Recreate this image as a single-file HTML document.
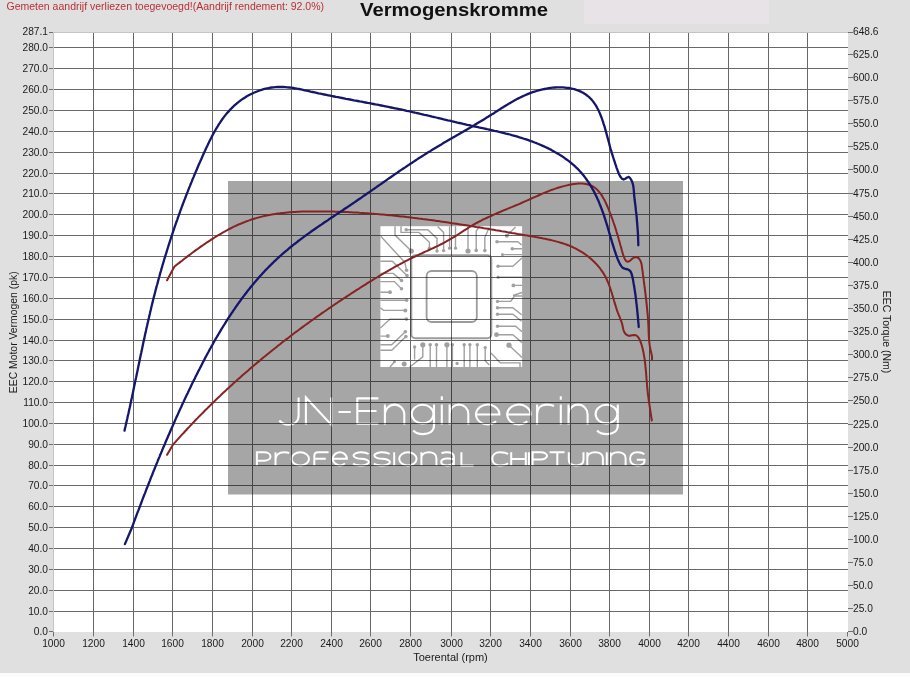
<!DOCTYPE html><html><head><meta charset="utf-8"><title>Vermogenskromme</title><style>html,body{margin:0;padding:0;width:910px;height:677px;overflow:hidden;background:#e0e0e0}svg{display:block}</style></head><body>
<svg width="910" height="677" viewBox="0 0 910 677" font-family="Liberation Sans, sans-serif">
<rect x="0" y="0" width="910" height="677" fill="#e0e0e0"/>
<rect x="0" y="673" width="910" height="4" fill="#fcfcfc"/>
<rect x="584" y="0" width="185" height="24" fill="#e7e3e6"/>
<text x="6.5" y="10" font-size="10.5" fill="#bb2f38">Gemeten aandrijf verliezen toegevoegd!(Aandrijf rendement: 92.0%)</text>
<text x="360" y="16.3" font-size="19" font-weight="bold" fill="#111" textLength="188" lengthAdjust="spacingAndGlyphs">Vermogenskromme</text>
<rect x="53" y="32" width="795" height="600" fill="#fff"/>
<path d="M53.5,632V32.5H848" stroke="#c4c4c4" stroke-width="1" fill="none"/>
<path d="M93.5,33V632M133.5,33V632M172.5,33V632M212.5,33V632M252.5,33V632M291.5,33V632M331.5,33V632M370.5,33V632M410.5,33V632M451.5,33V632M490.5,33V632M530.5,33V632M570.5,33V632M609.5,33V632M649.5,33V632M688.5,33V632M728.5,33V632M768.5,33V632M807.5,33V632M54,611.5H848M54,590.5H848M54,569.5H848M54,548.5H848M54,527.5H848M54,506.5H848M54,485.5H848M54,465.5H848M54,444.5H848M54,423.5H848M54,402.5H848M54,381.5H848M54,360.5H848M54,340.5H848M54,319.5H848M54,298.5H848M54,277.5H848M54,256.5H848M54,235.5H848M54,214.5H848M54,193.5H848M54,173.5H848M54,152.5H848M54,131.5H848M54,110.5H848M54,89.5H848M54,68.5H848M54,47.5H848" stroke="#686868" stroke-width="1" fill="none"/>
<g style="mix-blend-mode:multiply">
<rect x="228" y="181" width="455" height="313.5" fill="#a6a6a6"/>
<rect x="380.4" y="226.2" width="141.7" height="140.8" fill="#fff"/><path d="M395,226.2V235.1L411.3,251M401,226.2V232.4H419L429.4,242.2V248.2M406.2,229.7H427.7L437,238.4V251M437.6,226.4L443.6,232.4V250.6M449.6,226.2V248.2M380.7,236.2L404.8,262.4L406.6,270.3M380.4,261.3H392.2L407,275.6M380.4,273.4H393.3L401.5,280.5M380.4,281.6H394.4L401.5,288.7M380.4,292.2H390M455.5,226.2V248.2M468,226.2V251M479.5,226.2L476.2,231.3V250.4M489.3,227.5L484.8,237.3V250.6M506.8,235.7L515.6,226.9M497,241.7H517.8L521.6,245M512.3,248.8H522M502.5,254.6H522M498.1,266.3H512.8L522,258M498.1,277.2H522M513.4,285.4H522M513,295.5L522,292.5M380.4,300.3H406.6M380.4,307.7L383.5,310.4H405.3M380.4,327.9L390,319.1H406.4M380.4,336.1H387.8M380.4,344.8H391.7L405.3,331.7M380.4,350.3H391.7L405.9,336.6M390,367L394.4,361.8M409.7,367L422.8,356.8V344.8M414.6,359.6V347M430.2,367V344.8M436.5,367V344.8M446.9,367V344.8M497.5,301.4H510.7L514.5,296H522M497.5,307.7H512.8L521.6,314.8M497.5,314.2H512.8L521.6,321.3M497.5,326.2H515.6L522,331.7M496.5,334.7H512.8L522,342.6M509,345.2L522,357.4M491,353L500.3,362.9H520V367M452.4,344.8V367M464.2,344.8V367M469.9,344.8V367M477.3,344.8V367M485.2,347.6V360.7L489.3,365" fill="none" stroke="#a0a0a0" stroke-width="1.4"/><g fill="#a0a0a0"><circle cx="411.3" cy="251" r="2.6"/><circle cx="429.4" cy="248.2" r="1.7"/><circle cx="406.2" cy="229.7" r="1.8"/><circle cx="437" cy="251" r="1.7"/><circle cx="443.6" cy="250.6" r="1.7"/><circle cx="449.6" cy="248.2" r="1.6"/><circle cx="406.6" cy="270.3" r="1.8"/><circle cx="407" cy="275.6" r="1.8"/><circle cx="401.5" cy="280.5" r="1.8"/><circle cx="401.5" cy="288.7" r="1.8"/><circle cx="390" cy="292.2" r="1.9"/><circle cx="455.5" cy="248.2" r="1.6"/><circle cx="468" cy="251" r="2.6"/><circle cx="476.2" cy="250.4" r="1.8"/><circle cx="484.8" cy="250.6" r="1.8"/><circle cx="506.8" cy="235.7" r="2"/><circle cx="497" cy="241.7" r="1.8"/><circle cx="512.3" cy="248.8" r="1.8"/><circle cx="502.5" cy="254.6" r="1.6"/><circle cx="498.1" cy="266.3" r="1.8"/><circle cx="498.1" cy="277.2" r="1.6"/><circle cx="513.4" cy="285.4" r="1.9"/><circle cx="406.6" cy="300.3" r="1.8"/><circle cx="405.3" cy="310.4" r="2"/><circle cx="406.4" cy="319.1" r="1.8"/><circle cx="387.8" cy="336.1" r="2"/><circle cx="405.3" cy="331.7" r="1.8"/><circle cx="405.9" cy="336.6" r="1.8"/><circle cx="394.4" cy="361.8" r="1.5"/><circle cx="404.2" cy="364" r="2.5"/><circle cx="422.8" cy="344.8" r="2.6"/><circle cx="414.6" cy="347" r="1.7"/><circle cx="430.2" cy="344.8" r="1.8"/><circle cx="436.5" cy="344.8" r="1.8"/><circle cx="446.9" cy="344.8" r="2.6"/><circle cx="497.5" cy="301.4" r="1.7"/><circle cx="497.5" cy="307.7" r="1.7"/><circle cx="497.5" cy="314.2" r="1.7"/><circle cx="497.5" cy="326.2" r="1.7"/><circle cx="496.5" cy="334.7" r="2.4"/><circle cx="509" cy="345.2" r="2.6"/><circle cx="452.4" cy="344.8" r="1.7"/><circle cx="464.2" cy="344.8" r="1.7"/><circle cx="469.9" cy="344.8" r="1.7"/><circle cx="477.3" cy="344.8" r="1.7"/><circle cx="485.2" cy="347.6" r="1.7"/><circle cx="457.1" cy="363.4" r="1.6"/></g><rect x="411.3" y="255.3" width="80" height="83" rx="4" fill="none" stroke="#9c9c9c" stroke-width="2"/><rect x="426.6" y="271" width="50.2" height="51" rx="5" fill="none" stroke="#9c9c9c" stroke-width="1.8"/>
<path d="M298.6,397.5V415.5C298.6,421.5 294.5,424.6 288.6,424.6C284.5,424.6 281.3,423 279.3,420.5 M305.9,424.6V397.5L331.2,424.6V397.5 M338.5,412H350.8 M357.3,397.5V424.6 M357.3,398.4H378.4 M357.3,411H376.5 M357.3,423.7H378.4 M384.9,424.6V404.6 M384.9,414.3 A9.7,9.7 0 0 1 404.3,414.3 V424.6 M411.7,414.1 A10.9,9.3 0 1 0 433.5,414.1 A10.9,9.3 0 1 0 411.7,414.1 M434,404.6V425.6 C434,431.1 429.5,434.1 423,434.1 C418.5,434.1 415,432.5 413.3,430.5 M441.8,404.6V424.6 M441.8,396.3V399.9 M449.6,424.6V404.6 M449.6,413.95 A9.35,9.35 0 0 1 468.3,413.95 V424.6 M476,414.5H499.4 A11.7,9.9 0 1 0 496.124,421.331 M507.2,414.5H530.6 A11.7,9.9 0 1 0 527.324,421.331 M537.1,404.6V424.6 M537.1,414C537.1,408 541,404.6 547,404.6C550,404.6 552.5,405.2 554,406 M560.8,404.6V424.6 M560.8,396.2V399.8 M568.5,424.6V404.6 M568.5,414.15 A9.55,9.55 0 0 1 587.6,414.15 V424.6 M595.6,414.1 A10.9,9.3 0 1 0 617.4,414.1 A10.9,9.3 0 1 0 595.6,414.1 M617.8,404.6V425.6 C617.8,431.1 613.3,434.1 606.8,434.1 C602.3,434.1 598.8,432.5 597.1,430.5" fill="none" stroke="#fff" stroke-width="2.1"/>
<path d="M256.9,465.4V452.3H264C267.8,452.3 270.5,454.2 270.5,456.5C270.5,458.8 267.8,460.7 264,460.7H256.9 M275.5,465.4V452.3 M275.5,460C275.5,455 279,452.3 284,452.3C286,452.3 288,452.6 289.2,453.2 M291.6,458.85 A8.7,6.55 0 1 0 309,458.85 A8.7,6.55 0 1 0 291.6,458.85 M314.3,465.4V456C314.3,453.8 315.8,452.3 318,452.3H328.6 M314.3,458.8H325.8 M332.8,458.85H346.9 A7.05,6.55 0 1 0 344.926,463.37 M368.6,454C366.9,452.8 364.2,452.3 361.2,452.3C357.5,452.3 353.5,453.8 353.5,455.6C353.5,457.4 357.5,458.8 361.2,458.8C364.9,458.8 368.9,460.2 368.9,462.1C368.9,464 364.9,465.4 361.2,465.4C357,465.4 354.5,464.8 353.2,463.6 M389.7,454C388,452.8 385.15,452.3 382.15,452.3C378.3,452.3 374.3,453.8 374.3,455.6C374.3,457.4 378.3,458.8 382.15,458.8C386,458.8 390,460.2 390,462.1C390,464 386,465.4 382.15,465.4C377.8,465.4 375.3,464.8 374,463.6 M394.2,452.3V465.4 M399.2,458.85 A8.7,6.55 0 1 0 416.6,458.85 A8.7,6.55 0 1 0 399.2,458.85 M421.4,465.4V452.3 M421.4,458C421.4,454.5 424.5,452.3 428.9,452.3C433.3,452.3 436.4,454.5 436.4,458V465.4 M441.5,453.2C443,452.6 445,452.3 447,452.3C451,452.3 453.9,454 453.9,457V465.4 M453.9,459.5C452.5,458.8 450,458.5 447.3,458.5C443.5,458.5 441.2,460 441.2,462C441.2,464 443.5,465.4 447.3,465.4C450,465.4 452.5,464.5 453.9,463 M461.4,452.3V465.4H473.6 M508,454.3C506.5,452.9 503.5,452.3 500,452.3C495,452.3 492.3,455.2 492.3,458.85C492.3,462.5 495,465.4 500,465.4C503.5,465.4 506.5,464.6 508,463.3 M511.2,452.3V465.4 M525.8,452.3V465.4 M511.2,458.9H525.8 M528.9,452.3V465.4 M532.6,465.4V452.3H540.5C544.5,452.3 547.1,454 547.1,455.85C547.1,457.7 544.5,459.4 540.5,459.4H532.6 M549.6,452.3H564.6 M557.3,452.3V465.4 M568.8,452.3V459.5C568.8,463 571.5,465.4 576.15,465.4C580.8,465.4 583.5,463 583.5,459.5V452.3 M587.3,465.4V452.3 M587.3,458C587.3,454.5 590.4,452.3 595.1,452.3C599.8,452.3 602.9,454.5 602.9,458V465.4 M610.4,465.4V452.3 M610.4,458C610.4,454.5 613.5,452.3 618,452.3C622.5,452.3 625.6,454.5 625.6,458V465.4 M606.8,452.3V465.4 M644.3,454.2C642.8,452.9 640.3,452.3 637.5,452.3C632.5,452.3 630.1,455.2 630.1,458.85C630.1,462.5 632.5,465.4 637.5,465.4C642,465.4 644.5,463.8 644.5,461V459.8H636.8" fill="none" stroke="#fff" stroke-width="2"/>
</g>
<g fill="none" stroke-linecap="round" stroke-linejoin="round">
<path d="M167.1,280.3 L174.3,266.7 175.8,265.5 177.3,264.3 178.9,263.1 180.4,261.9 182.0,260.7 183.5,259.5 185.1,258.3 186.6,257.1 188.2,255.9 189.8,254.7 191.4,253.5 193.0,252.3 194.6,251.1 196.2,249.9 197.9,248.8 199.5,247.6 201.1,246.4 202.8,245.3 204.5,244.1 206.1,243.0 207.8,241.9 209.5,240.8 211.2,239.7 212.9,238.6 214.6,237.5 216.3,236.4 218.0,235.4 219.8,234.3 221.5,233.3 223.2,232.3 225.0,231.4 226.8,230.4 228.5,229.4 230.3,228.5 232.1,227.6 233.9,226.7 235.7,225.9 237.5,225.0 239.3,224.2 241.2,223.5 243.0,222.7 244.9,222.0 246.7,221.2 248.6,220.6 250.4,219.9 252.3,219.3 254.2,218.7 256.1,218.1 258.0,217.6 259.9,217.1 261.8,216.6 263.8,216.1 265.7,215.7 267.6,215.3 269.6,214.9 271.5,214.6 273.5,214.2 275.4,213.9 277.4,213.6 279.4,213.4 281.4,213.1 283.3,212.9 285.3,212.7 287.3,212.5 289.3,212.3 291.3,212.2 293.3,212.0 295.3,211.9 297.3,211.8 299.3,211.7 301.3,211.6 303.3,211.5 305.3,211.5 307.3,211.4 309.3,211.4 311.3,211.4 313.4,211.4 315.4,211.4 317.4,211.4 319.4,211.4 321.4,211.4 323.4,211.4 325.4,211.4 327.4,211.5 329.4,211.5 331.4,211.5 333.4,211.6 335.4,211.7 337.4,211.7 339.4,211.8 341.4,211.9 343.4,211.9 345.4,212.0 347.4,212.1 349.4,212.2 351.4,212.3 353.4,212.4 355.4,212.5 357.4,212.6 359.4,212.8 361.4,212.9 363.4,213.0 365.4,213.2 367.3,213.3 369.3,213.4 371.3,213.6 373.3,213.7 375.3,213.9 377.3,214.1 379.3,214.2 381.2,214.4 383.2,214.6 385.2,214.8 387.2,215.0 389.2,215.2 391.1,215.3 393.1,215.5 395.1,215.8 397.1,216.0 399.1,216.2 401.0,216.4 403.0,216.6 405.0,216.8 407.0,217.1 408.9,217.3 410.9,217.5 412.9,217.8 414.9,218.0 416.8,218.2 418.8,218.5 420.8,218.7 422.8,219.0 424.7,219.2 426.7,219.5 428.7,219.8 430.7,220.0 432.6,220.3 434.6,220.6 436.6,220.9 438.5,221.1 440.5,221.4 442.5,221.7 444.5,222.0 446.4,222.3 448.4,222.6 450.4,222.9 452.3,223.2 454.3,223.4 456.3,223.7 458.3,224.1 460.2,224.4 462.2,224.7 464.2,225.0 466.2,225.3 468.1,225.6 470.1,225.9 472.1,226.2 474.0,226.5 476.0,226.9 478.0,227.2 480.0,227.5 481.9,227.8 483.9,228.2 485.9,228.5 487.9,228.8 489.8,229.2 491.8,229.5 493.8,229.8 495.8,230.2 497.7,230.5 499.7,230.8 501.7,231.2 503.7,231.5 505.6,231.8 507.6,232.2 509.6,232.5 511.6,232.9 513.6,233.2 515.5,233.5 517.5,233.9 519.5,234.2 521.5,234.6 523.5,234.9 525.4,235.3 527.4,235.6 529.4,236.0 531.4,236.3 533.4,236.6 535.4,237.0 537.3,237.3 539.3,237.7 541.3,238.1 543.3,238.5 545.2,238.8 547.2,239.3 549.2,239.7 551.1,240.1 553.1,240.6 555.0,241.1 556.9,241.6 558.8,242.1 560.7,242.7 562.6,243.3 564.5,243.9 566.3,244.5 568.2,245.2 570.0,246.0 571.8,246.7 573.6,247.6 575.4,248.4 577.1,249.3 578.9,250.3 580.6,251.3 582.3,252.3 583.9,253.4 585.5,254.5 587.1,255.7 588.7,256.9 590.2,258.2 591.7,259.5 593.2,260.9 594.6,262.3 596.0,263.7 597.3,265.2 598.6,266.7 599.9,268.2 601.0,269.8 602.2,271.4 603.3,273.1 604.3,274.8 605.3,276.5 606.2,278.3 607.0,280.0 607.8,281.9 608.6,283.7 609.3,285.6 610.0,287.5 610.6,289.4 611.2,291.3 611.9,293.2 612.4,295.1 613.0,297.1 613.6,299.0 614.1,301.0 614.7,302.9 615.3,304.9 615.9,306.8 616.5,308.7 617.1,310.6 617.8,312.5 618.5,314.3 619.3,316.2 620.0,318.0 620.7,319.8 621.4,321.7 622.0,323.6 622.5,325.5 622.9,327.5 623.3,329.5 624.0,331.5 625.0,333.3 626.4,334.7 628.2,335.7 630.1,335.8 632.1,335.3 634.1,334.9 635.9,335.2 637.4,336.3 638.7,337.9 639.7,339.7 640.5,341.7 641.2,343.6 641.8,345.5 642.3,347.4 642.8,349.3 643.2,351.2 643.6,353.1 643.9,355.1 644.3,357.0 644.6,359.0 644.8,361.0 645.1,362.9 645.3,364.9 645.5,366.9 645.7,368.9 645.9,370.9 646.1,372.9 646.2,374.9 646.4,376.9 646.5,378.9 646.7,380.9 646.9,382.9 647.0,384.9 647.2,386.9 647.4,388.9 647.6,390.9 647.8,392.9 648.0,394.8 648.3,396.8 648.6,398.8 648.8,400.8 649.1,402.7 649.4,404.7 649.7,406.7 650.0,408.6 650.3,410.6 650.6,412.6 650.9,414.5 651.2,416.5 651.5,418.5 651.8,420.5" stroke="#862323" stroke-width="2"/>
<path d="M167.1,454.8 L172.8,444.9 174.1,443.4 175.5,441.9 176.8,440.4 178.2,438.9 179.5,437.4 180.8,435.9 182.2,434.4 183.6,433.0 184.9,431.5 186.3,430.0 187.6,428.5 189.0,427.1 190.4,425.6 191.8,424.2 193.1,422.7 194.5,421.3 195.9,419.8 197.3,418.4 198.7,416.9 200.1,415.5 201.5,414.1 202.9,412.7 204.3,411.2 205.7,409.8 207.2,408.4 208.6,407.0 210.0,405.6 211.4,404.2 212.9,402.8 214.3,401.4 215.7,400.0 217.2,398.6 218.6,397.2 220.1,395.9 221.5,394.5 223.0,393.1 224.4,391.8 225.9,390.4 227.3,389.0 228.8,387.7 230.3,386.3 231.8,385.0 233.2,383.6 234.7,382.3 236.2,381.0 237.7,379.6 239.2,378.3 240.7,377.0 242.2,375.6 243.7,374.3 245.2,373.0 246.7,371.7 248.2,370.4 249.7,369.1 251.2,367.8 252.7,366.5 254.2,365.2 255.8,363.9 257.3,362.6 258.8,361.4 260.4,360.1 261.9,358.8 263.4,357.5 265.0,356.3 266.5,355.0 268.1,353.7 269.6,352.5 271.2,351.2 272.7,350.0 274.3,348.7 275.9,347.5 277.4,346.2 279.0,345.0 280.6,343.8 282.1,342.5 283.7,341.3 285.3,340.1 286.9,338.9 288.5,337.7 290.0,336.5 291.6,335.2 293.2,334.0 294.8,332.8 296.4,331.6 298.0,330.5 299.6,329.3 301.2,328.1 302.8,326.9 304.4,325.7 306.1,324.5 307.7,323.4 309.3,322.2 310.9,321.0 312.5,319.9 314.2,318.7 315.8,317.5 317.4,316.4 319.1,315.2 320.7,314.1 322.3,312.9 324.0,311.8 325.6,310.7 327.3,309.5 328.9,308.4 330.6,307.3 332.2,306.1 333.9,305.0 335.5,303.9 337.2,302.8 338.8,301.7 340.5,300.6 342.2,299.5 343.8,298.4 345.5,297.3 347.2,296.2 348.9,295.1 350.5,294.0 352.2,292.9 353.9,291.8 355.6,290.7 357.3,289.6 359.0,288.6 360.6,287.5 362.3,286.4 364.0,285.4 365.7,284.3 367.4,283.2 369.1,282.2 370.8,281.1 372.5,280.1 374.2,279.0 376.0,278.0 377.7,277.0 379.4,275.9 381.1,274.9 382.8,273.9 384.5,272.9 386.3,271.8 388.0,270.8 389.7,269.8 391.5,268.8 393.2,267.9 394.9,266.9 396.7,265.9 398.5,265.0 400.2,264.0 402.0,263.1 403.7,262.1 405.5,261.2 407.3,260.3 409.1,259.4 410.9,258.5 412.7,257.6 414.5,256.8 416.3,255.9 418.1,255.1 419.9,254.2 421.7,253.4 423.5,252.5 425.4,251.7 427.2,250.9 429.0,250.0 430.8,249.2 432.6,248.3 434.4,247.5 436.2,246.6 438.0,245.8 439.8,244.9 441.6,244.0 443.3,243.1 445.1,242.1 446.8,241.2 448.6,240.2 450.3,239.2 452.0,238.2 453.7,237.2 455.4,236.1 457.1,235.1 458.8,234.0 460.5,232.9 462.1,231.8 463.8,230.7 465.5,229.6 467.2,228.6 468.9,227.5 470.6,226.5 472.3,225.4 474.0,224.4 475.8,223.4 477.5,222.5 479.3,221.5 481.1,220.6 482.8,219.7 484.6,218.8 486.5,218.0 488.3,217.1 490.1,216.3 491.9,215.5 493.8,214.6 495.6,213.8 497.4,213.0 499.3,212.3 501.1,211.5 503.0,210.7 504.8,209.9 506.7,209.2 508.5,208.4 510.4,207.6 512.2,206.9 514.1,206.1 515.9,205.3 517.7,204.6 519.6,203.8 521.4,203.0 523.2,202.2 525.0,201.4 526.8,200.6 528.6,199.8 530.4,199.0 532.2,198.2 534.0,197.4 535.8,196.6 537.6,195.8 539.4,195.0 541.2,194.2 543.0,193.4 544.8,192.6 546.7,191.9 548.5,191.2 550.4,190.4 552.2,189.7 554.1,189.1 556.1,188.4 558.0,187.8 559.9,187.2 561.9,186.6 563.9,186.1 565.9,185.6 568.0,185.1 570.0,184.7 572.1,184.3 574.2,184.0 576.2,183.8 578.2,183.6 580.2,183.5 582.2,183.6 584.2,183.7 586.0,184.0 587.9,184.4 589.6,185.0 591.3,185.6 593.0,186.5 594.5,187.5 596.0,188.6 597.3,189.9 598.6,191.3 599.9,192.8 601.1,194.4 602.2,196.1 603.2,197.9 604.3,199.7 605.2,201.6 606.1,203.5 607.0,205.5 607.8,207.4 608.7,209.4 609.4,211.4 610.2,213.3 610.9,215.2 611.6,217.1 612.3,219.0 613.0,220.9 613.6,222.8 614.3,224.6 614.9,226.5 615.5,228.4 616.1,230.2 616.6,232.1 617.2,233.9 617.8,235.8 618.3,237.6 618.8,239.5 619.4,241.4 619.9,243.3 620.4,245.2 621.0,247.1 621.5,249.1 622.0,251.0 622.6,253.0 623.2,255.1 624.0,257.2 624.9,259.2 626.0,260.9 627.3,261.7 628.8,261.4 630.5,260.3 632.2,258.8 634.0,257.5 635.8,257.0 637.5,257.4 639.0,258.6 640.1,260.1 640.9,261.9 641.5,263.9 641.8,265.9 642.1,268.0 642.4,270.1 642.7,272.1 642.9,274.2 643.2,276.2 643.5,278.2 643.7,280.2 644.0,282.1 644.2,284.1 644.5,286.1 644.7,288.0 645.0,290.0 645.2,292.0 645.5,293.9 645.7,295.9 645.9,297.8 646.2,299.8 646.4,301.8 646.6,303.8 646.8,305.8 647.0,307.8 647.2,309.8 647.4,311.8 647.6,313.8 647.8,315.8 647.9,317.8 648.1,319.8 648.2,321.8 648.3,323.8 648.4,325.8 648.5,327.8 648.6,329.8 648.6,331.8 648.7,333.8 648.8,335.8 648.9,337.7 649.1,339.7 649.2,341.7 649.5,343.7 649.7,345.7 650.1,347.6 650.5,349.6 650.9,351.6 651.4,353.6 651.8,355.5 652.1,357.5 652.0,359.5" stroke="#862323" stroke-width="2"/>
<path d="M124.5,430.7 124.9,428.8 125.4,426.8 125.8,424.9 126.3,422.9 126.7,421.0 127.2,419.0 127.6,417.1 128.0,415.1 128.5,413.2 128.9,411.2 129.3,409.3 129.8,407.3 130.2,405.4 130.6,403.4 131.0,401.5 131.4,399.5 131.9,397.6 132.3,395.6 132.7,393.7 133.1,391.7 133.5,389.8 133.9,387.8 134.3,385.8 134.7,383.9 135.1,381.9 135.5,380.0 136.0,378.0 136.4,376.1 136.8,374.1 137.2,372.2 137.6,370.2 138.0,368.2 138.4,366.3 138.8,364.3 139.2,362.4 139.6,360.4 140.0,358.5 140.4,356.5 140.8,354.5 141.3,352.6 141.7,350.6 142.1,348.7 142.5,346.7 142.9,344.8 143.3,342.8 143.7,340.9 144.2,338.9 144.6,337.0 145.0,335.0 145.4,333.1 145.9,331.1 146.3,329.1 146.7,327.2 147.2,325.2 147.6,323.3 148.1,321.3 148.5,319.4 149.0,317.5 149.4,315.5 149.9,313.6 150.3,311.6 150.8,309.7 151.2,307.7 151.7,305.8 152.2,303.8 152.7,301.9 153.1,300.0 153.6,298.0 154.1,296.1 154.6,294.2 155.1,292.2 155.6,290.3 156.1,288.4 156.6,286.4 157.2,284.5 157.7,282.6 158.2,280.6 158.7,278.7 159.3,276.8 159.8,274.9 160.3,272.9 160.9,271.0 161.4,269.1 162.0,267.2 162.5,265.2 163.1,263.3 163.7,261.4 164.2,259.5 164.8,257.6 165.4,255.7 166.0,253.8 166.6,251.8 167.2,249.9 167.8,248.0 168.4,246.1 169.0,244.2 169.6,242.3 170.2,240.4 170.8,238.5 171.4,236.6 172.1,234.7 172.7,232.8 173.3,230.9 174.0,229.0 174.6,227.1 175.3,225.2 175.9,223.3 176.6,221.5 177.3,219.6 177.9,217.7 178.6,215.8 179.3,213.9 180.0,212.0 180.6,210.2 181.3,208.3 182.0,206.4 182.7,204.5 183.4,202.6 184.1,200.8 184.9,198.9 185.6,197.0 186.3,195.2 187.0,193.3 187.8,191.4 188.5,189.6 189.2,187.7 190.0,185.9 190.7,184.0 191.5,182.1 192.2,180.3 193.0,178.4 193.8,176.6 194.5,174.7 195.3,172.9 196.1,171.0 196.9,169.2 197.7,167.3 198.4,165.5 199.2,163.7 200.1,161.8 200.9,160.0 201.7,158.2 202.5,156.3 203.3,154.5 204.1,152.7 205.0,150.8 205.8,149.0 206.6,147.2 207.5,145.4 208.4,143.6 209.2,141.8 210.1,140.0 211.0,138.2 211.9,136.4 212.8,134.7 213.8,132.9 214.8,131.2 215.7,129.5 216.7,127.8 217.8,126.1 218.8,124.4 219.9,122.8 221.0,121.1 222.1,119.5 223.3,117.9 224.4,116.4 225.6,114.9 226.9,113.3 228.2,111.9 229.5,110.4 230.8,109.0 232.2,107.6 233.6,106.2 235.1,104.9 236.6,103.6 238.1,102.3 239.7,101.1 241.3,99.9 243.0,98.8 244.7,97.7 246.5,96.6 248.2,95.6 250.1,94.6 251.9,93.7 253.8,92.8 255.7,92.0 257.7,91.2 259.6,90.5 261.6,89.8 263.6,89.2 265.6,88.7 267.5,88.3 269.5,87.9 271.5,87.5 273.5,87.3 275.5,87.1 277.5,87.0 279.4,87.0 281.4,87.0 283.4,87.0 285.3,87.1 287.3,87.3 289.3,87.5 291.2,87.7 293.2,88.0 295.1,88.3 297.1,88.7 299.0,89.0 301.0,89.4 302.9,89.8 304.9,90.3 306.8,90.7 308.8,91.1 310.7,91.6 312.7,92.0 314.6,92.4 316.6,92.8 318.5,93.3 320.5,93.7 322.4,94.1 324.4,94.5 326.3,94.9 328.3,95.3 330.2,95.7 332.2,96.1 334.2,96.5 336.1,96.9 338.1,97.2 340.1,97.6 342.0,98.0 344.0,98.4 345.9,98.8 347.9,99.1 349.9,99.5 351.8,99.9 353.8,100.3 355.8,100.6 357.7,101.0 359.7,101.4 361.7,101.7 363.6,102.1 365.6,102.5 367.6,102.9 369.5,103.2 371.5,103.6 373.5,104.0 375.4,104.4 377.4,104.7 379.4,105.1 381.3,105.5 383.3,105.9 385.3,106.3 387.2,106.7 389.2,107.1 391.1,107.5 393.1,107.9 395.1,108.3 397.0,108.7 399.0,109.1 400.9,109.5 402.9,109.9 404.9,110.3 406.8,110.8 408.8,111.2 410.7,111.6 412.7,112.1 414.6,112.5 416.6,113.0 418.5,113.4 420.5,113.9 422.4,114.3 424.4,114.8 426.3,115.2 428.3,115.7 430.2,116.1 432.2,116.6 434.1,117.0 436.1,117.5 438.0,118.0 439.9,118.4 441.9,118.9 443.8,119.4 445.8,119.8 447.7,120.3 449.7,120.7 451.6,121.2 453.6,121.6 455.5,122.1 457.5,122.6 459.4,123.0 461.3,123.4 463.3,123.9 465.2,124.3 467.2,124.8 469.1,125.2 471.1,125.7 473.0,126.1 475.0,126.5 476.9,126.9 478.9,127.4 480.8,127.8 482.7,128.2 484.7,128.6 486.6,129.0 488.6,129.5 490.5,129.9 492.5,130.3 494.4,130.8 496.3,131.2 498.3,131.7 500.2,132.1 502.2,132.6 504.1,133.1 506.0,133.6 508.0,134.0 509.9,134.5 511.8,135.1 513.7,135.6 515.7,136.1 517.6,136.7 519.5,137.3 521.4,137.8 523.3,138.5 525.2,139.1 527.1,139.7 529.0,140.4 530.9,141.1 532.8,141.7 534.7,142.5 536.6,143.2 538.5,144.0 540.3,144.8 542.2,145.6 544.0,146.4 545.9,147.2 547.7,148.1 549.5,149.0 551.3,149.9 553.1,150.9 554.8,151.9 556.6,152.9 558.3,153.9 560.0,155.0 561.7,156.0 563.4,157.1 565.0,158.3 566.6,159.5 568.2,160.6 569.8,161.9 571.3,163.1 572.8,164.4 574.3,165.7 575.8,167.1 577.2,168.4 578.6,169.8 579.9,171.3 581.3,172.8 582.5,174.3 583.8,175.8 585.0,177.4 586.2,179.0 587.3,180.6 588.4,182.2 589.5,183.9 590.6,185.6 591.6,187.3 592.6,189.1 593.6,190.8 594.5,192.6 595.4,194.4 596.3,196.2 597.1,198.0 598.0,199.9 598.8,201.7 599.5,203.6 600.3,205.5 601.0,207.3 601.7,209.2 602.4,211.1 603.1,213.0 603.8,214.9 604.4,216.8 605.0,218.7 605.6,220.6 606.2,222.5 606.8,224.3 607.4,226.2 607.9,228.1 608.5,230.0 609.0,231.9 609.6,233.8 610.2,235.7 610.7,237.6 611.3,239.5 611.8,241.4 612.4,243.3 613.0,245.2 613.6,247.2 614.2,249.1 614.8,251.0 615.5,252.9 616.1,254.8 616.8,256.7 617.5,258.6 618.3,260.5 619.1,262.3 620.0,264.1 621.1,265.9 622.3,267.4 623.9,268.4 625.8,269.0 627.8,269.4 629.4,270.3 630.6,271.6 631.4,273.3 632.0,275.3 632.5,277.3 632.9,279.3 633.3,281.4 633.6,283.4 634.0,285.4 634.3,287.3 634.6,289.3 634.9,291.3 635.2,293.2 635.5,295.2 635.7,297.1 636.0,299.1 636.2,301.1 636.4,303.1 636.7,305.1 636.9,307.1 637.1,309.1 637.3,311.1 637.5,313.1 637.7,315.1 637.9,317.1 638.1,319.1 638.2,321.0 638.4,323.0 638.6,325.0 638.7,327.0" stroke="#16166a" stroke-width="2.3"/>
<path d="M124.9,544.1 L132.1,527.3 132.7,525.5 133.4,523.6 134.1,521.7 134.8,519.8 135.5,517.9 136.2,516.1 136.9,514.2 137.6,512.3 138.4,510.4 139.1,508.6 139.8,506.7 140.5,504.8 141.2,503.0 141.9,501.1 142.6,499.2 143.3,497.4 144.0,495.5 144.8,493.6 145.5,491.8 146.2,489.9 146.9,488.0 147.7,486.2 148.4,484.3 149.1,482.5 149.9,480.6 150.6,478.7 151.3,476.9 152.1,475.0 152.8,473.2 153.5,471.3 154.3,469.5 155.0,467.6 155.8,465.8 156.5,463.9 157.3,462.1 158.0,460.2 158.8,458.4 159.6,456.6 160.3,454.7 161.1,452.9 161.9,451.0 162.6,449.2 163.4,447.3 164.2,445.5 165.0,443.7 165.7,441.8 166.5,440.0 167.3,438.2 168.1,436.3 168.9,434.5 169.7,432.7 170.5,430.8 171.3,429.0 172.1,427.2 172.9,425.4 173.7,423.5 174.5,421.7 175.3,419.9 176.1,418.1 176.9,416.2 177.8,414.4 178.6,412.6 179.4,410.8 180.2,409.0 181.1,407.2 181.9,405.3 182.7,403.5 183.6,401.7 184.4,399.9 185.3,398.1 186.1,396.3 187.0,394.5 187.9,392.7 188.7,390.9 189.6,389.1 190.5,387.3 191.3,385.4 192.2,383.6 193.1,381.8 194.0,380.0 194.9,378.2 195.7,376.4 196.6,374.7 197.5,372.9 198.4,371.1 199.4,369.3 200.3,367.5 201.2,365.7 202.1,363.9 203.0,362.1 204.0,360.4 204.9,358.6 205.8,356.8 206.8,355.0 207.7,353.3 208.7,351.5 209.6,349.7 210.6,348.0 211.6,346.2 212.6,344.5 213.5,342.7 214.5,341.0 215.5,339.2 216.5,337.5 217.5,335.8 218.6,334.0 219.6,332.3 220.6,330.6 221.6,328.9 222.7,327.2 223.7,325.5 224.8,323.8 225.8,322.1 226.9,320.4 228.0,318.7 229.1,317.0 230.2,315.4 231.3,313.7 232.4,312.1 233.5,310.4 234.6,308.8 235.7,307.1 236.9,305.5 238.0,303.9 239.2,302.3 240.4,300.6 241.5,299.0 242.7,297.4 243.9,295.9 245.1,294.3 246.3,292.7 247.5,291.1 248.8,289.6 250.0,288.0 251.2,286.5 252.5,285.0 253.8,283.4 255.0,281.9 256.3,280.4 257.6,278.9 258.9,277.4 260.2,276.0 261.6,274.5 262.9,273.0 264.3,271.6 265.6,270.1 267.0,268.7 268.4,267.3 269.8,265.9 271.2,264.5 272.6,263.1 274.0,261.7 275.5,260.3 276.9,259.0 278.4,257.6 279.8,256.3 281.3,255.0 282.8,253.7 284.3,252.4 285.8,251.1 287.4,249.8 288.9,248.5 290.5,247.2 292.0,246.0 293.6,244.7 295.2,243.5 296.7,242.3 298.3,241.0 299.9,239.8 301.5,238.6 303.2,237.4 304.8,236.2 306.4,235.0 308.0,233.9 309.7,232.7 311.3,231.5 313.0,230.3 314.6,229.2 316.3,228.0 317.9,226.9 319.6,225.7 321.3,224.6 322.9,223.5 324.6,222.3 326.3,221.2 328.0,220.1 329.6,218.9 331.3,217.8 333.0,216.7 334.7,215.6 336.4,214.4 338.1,213.3 339.7,212.2 341.4,211.1 343.1,210.0 344.8,208.8 346.4,207.7 348.1,206.6 349.8,205.5 351.4,204.4 353.1,203.2 354.8,202.1 356.4,201.0 358.1,199.8 359.7,198.7 361.4,197.6 363.0,196.4 364.6,195.3 366.3,194.2 367.9,193.0 369.6,191.9 371.2,190.8 372.8,189.6 374.5,188.5 376.1,187.4 377.7,186.2 379.3,185.1 381.0,184.0 382.6,182.8 384.2,181.7 385.8,180.6 387.5,179.4 389.1,178.3 390.7,177.2 392.4,176.0 394.0,174.9 395.6,173.8 397.3,172.7 398.9,171.5 400.5,170.4 402.2,169.3 403.8,168.2 405.5,167.1 407.1,166.0 408.8,164.9 410.4,163.8 412.1,162.7 413.7,161.6 415.4,160.5 417.1,159.4 418.7,158.3 420.4,157.3 422.1,156.2 423.8,155.1 425.5,154.0 427.1,153.0 428.8,151.9 430.6,150.9 432.3,149.8 434.0,148.8 435.7,147.8 437.4,146.7 439.1,145.7 440.9,144.7 442.6,143.6 444.3,142.6 446.1,141.6 447.8,140.6 449.5,139.6 451.3,138.5 453.0,137.5 454.8,136.5 456.5,135.5 458.3,134.5 460.0,133.5 461.7,132.5 463.5,131.5 465.2,130.5 467.0,129.4 468.7,128.4 470.4,127.4 472.2,126.4 473.9,125.4 475.6,124.3 477.3,123.3 479.0,122.3 480.8,121.3 482.5,120.2 484.2,119.2 485.9,118.1 487.6,117.1 489.2,116.0 490.9,115.0 492.6,113.9 494.3,112.9 495.9,111.8 497.6,110.7 499.2,109.7 500.9,108.6 502.6,107.6 504.2,106.5 505.9,105.5 507.6,104.5 509.3,103.4 511.0,102.4 512.7,101.5 514.4,100.5 516.2,99.5 517.9,98.6 519.7,97.7 521.5,96.9 523.3,96.0 525.1,95.2 527.0,94.4 528.8,93.6 530.7,92.9 532.7,92.2 534.6,91.6 536.6,91.0 538.6,90.4 540.6,89.9 542.6,89.4 544.7,89.0 546.7,88.6 548.7,88.2 550.8,87.9 552.8,87.7 554.9,87.5 556.9,87.4 558.9,87.4 560.9,87.4 562.9,87.4 564.9,87.6 566.8,87.8 568.8,88.0 570.7,88.4 572.6,88.8 574.4,89.2 576.2,89.8 578.0,90.4 579.7,91.1 581.4,91.9 583.1,92.8 584.6,93.8 586.2,94.8 587.7,96.0 589.1,97.2 590.5,98.5 591.8,99.9 593.0,101.4 594.2,103.0 595.3,104.7 596.4,106.4 597.4,108.3 598.4,110.1 599.3,112.1 600.1,114.0 600.9,116.0 601.7,118.0 602.4,120.1 603.1,122.1 603.7,124.1 604.4,126.2 605.0,128.2 605.5,130.2 606.1,132.1 606.6,134.0 607.1,135.9 607.6,137.7 608.1,139.5 608.6,141.3 609.1,143.1 609.5,144.9 610.0,146.7 610.5,148.6 611.1,150.4 611.6,152.3 612.2,154.2 612.8,156.1 613.4,158.0 614.0,160.0 614.7,161.9 615.3,163.9 616.0,165.9 616.6,167.8 617.3,169.7 618.0,171.6 618.7,173.5 619.6,175.3 620.6,177.1 622.0,178.7 623.6,179.5 625.3,178.8 627.1,177.5 628.7,176.9 630.1,178.1 631.2,179.8 632.1,181.7 632.7,183.6 633.2,185.5 633.5,187.5 633.7,189.5 633.9,191.5 634.0,193.6 634.2,195.6 634.4,197.6 634.6,199.5 634.9,201.5 635.1,203.5 635.4,205.4 635.6,207.4 635.8,209.4 636.0,211.4 636.3,213.4 636.5,215.4 636.7,217.4 636.8,219.3 637.0,221.3 637.2,223.3 637.3,225.3 637.5,227.3 637.6,229.3 637.8,231.3 637.9,233.3 638.0,235.3 638.1,237.3 638.1,239.3 638.2,241.3 638.3,243.3 638.3,245.3" stroke="#16166a" stroke-width="2.3"/>
</g>
<path d="M49,631.5H53M49,611.5H53M49,590.5H53M49,569.5H53M49,548.5H53M49,527.5H53M49,506.5H53M49,485.5H53M49,465.5H53M49,444.5H53M49,423.5H53M49,402.5H53M49,381.5H53M49,360.5H53M49,340.5H53M49,319.5H53M49,298.5H53M49,277.5H53M49,256.5H53M49,235.5H53M49,214.5H53M49,193.5H53M49,173.5H53M49,152.5H53M49,131.5H53M49,110.5H53M49,89.5H53M49,68.5H53M49,47.5H53M49,32.5H53M848,631.5H853M848,608.5H853M848,585.5H853M848,562.5H853M848,539.5H853M848,516.5H853M848,493.5H853M848,470.5H853M848,447.5H853M848,424.5H853M848,400.5H853M848,377.5H853M848,354.5H853M848,331.5H853M848,308.5H853M848,285.5H853M848,262.5H853M848,239.5H853M848,216.5H853M848,193.5H853M848,169.5H853M848,146.5H853M848,123.5H853M848,100.5H853M848,77.5H853M848,54.5H853M848,32.5H853M53.5,632V636.5M93.5,632V636.5M133.5,632V636.5M172.5,632V636.5M212.5,632V636.5M252.5,632V636.5M291.5,632V636.5M331.5,632V636.5M370.5,632V636.5M410.5,632V636.5M451.5,632V636.5M490.5,632V636.5M530.5,632V636.5M570.5,632V636.5M609.5,632V636.5M649.5,632V636.5M688.5,632V636.5M728.5,632V636.5M768.5,632V636.5M807.5,632V636.5M847.5,632V636.5" stroke="#707070" stroke-width="1" fill="none"/>
<g font-size="10.2" fill="#1a1a1a"><text x="48" y="634.7" text-anchor="end">0.0</text><text x="48" y="614.7" text-anchor="end">10.0</text><text x="48" y="593.7" text-anchor="end">20.0</text><text x="48" y="572.7" text-anchor="end">30.0</text><text x="48" y="551.7" text-anchor="end">40.0</text><text x="48" y="530.7" text-anchor="end">50.0</text><text x="48" y="509.7" text-anchor="end">60.0</text><text x="48" y="488.7" text-anchor="end">70.0</text><text x="48" y="468.7" text-anchor="end">80.0</text><text x="48" y="447.7" text-anchor="end">90.0</text><text x="48" y="426.7" text-anchor="end">100.0</text><text x="48" y="405.7" text-anchor="end">110.0</text><text x="48" y="384.7" text-anchor="end">120.0</text><text x="48" y="363.7" text-anchor="end">130.0</text><text x="48" y="343.7" text-anchor="end">140.0</text><text x="48" y="322.7" text-anchor="end">150.0</text><text x="48" y="301.7" text-anchor="end">160.0</text><text x="48" y="280.7" text-anchor="end">170.0</text><text x="48" y="259.7" text-anchor="end">180.0</text><text x="48" y="238.7" text-anchor="end">190.0</text><text x="48" y="217.7" text-anchor="end">200.0</text><text x="48" y="196.7" text-anchor="end">210.0</text><text x="48" y="176.7" text-anchor="end">220.0</text><text x="48" y="155.7" text-anchor="end">230.0</text><text x="48" y="134.7" text-anchor="end">240.0</text><text x="48" y="113.7" text-anchor="end">250.0</text><text x="48" y="92.7" text-anchor="end">260.0</text><text x="48" y="71.7" text-anchor="end">270.0</text><text x="48" y="50.7" text-anchor="end">280.0</text><text x="48" y="35.3" text-anchor="end">287.1</text><text x="853" y="634.7">0.0</text><text x="853" y="611.7">25.0</text><text x="853" y="588.7">50.0</text><text x="853" y="565.7">75.0</text><text x="853" y="542.7">100.0</text><text x="853" y="519.7">125.0</text><text x="853" y="496.7">150.0</text><text x="853" y="473.7">175.0</text><text x="853" y="450.7">200.0</text><text x="853" y="427.7">225.0</text><text x="853" y="403.7">250.0</text><text x="853" y="380.7">275.0</text><text x="853" y="357.7">300.0</text><text x="853" y="334.7">325.0</text><text x="853" y="311.7">350.0</text><text x="853" y="288.7">375.0</text><text x="853" y="265.7">400.0</text><text x="853" y="242.7">425.0</text><text x="853" y="219.7">450.0</text><text x="853" y="196.7">475.0</text><text x="853" y="172.7">500.0</text><text x="853" y="149.7">525.0</text><text x="853" y="126.7">550.0</text><text x="853" y="103.7">575.0</text><text x="853" y="80.7">600.0</text><text x="853" y="57.7">625.0</text><text x="853" y="35.3">648.6</text><text x="53.5" y="646.5" text-anchor="middle">1000</text><text x="93.5" y="646.5" text-anchor="middle">1200</text><text x="133.5" y="646.5" text-anchor="middle">1400</text><text x="172.5" y="646.5" text-anchor="middle">1600</text><text x="212.5" y="646.5" text-anchor="middle">1800</text><text x="252.5" y="646.5" text-anchor="middle">2000</text><text x="291.5" y="646.5" text-anchor="middle">2200</text><text x="331.5" y="646.5" text-anchor="middle">2400</text><text x="370.5" y="646.5" text-anchor="middle">2600</text><text x="410.5" y="646.5" text-anchor="middle">2800</text><text x="451.5" y="646.5" text-anchor="middle">3000</text><text x="490.5" y="646.5" text-anchor="middle">3200</text><text x="530.5" y="646.5" text-anchor="middle">3400</text><text x="570.5" y="646.5" text-anchor="middle">3600</text><text x="609.5" y="646.5" text-anchor="middle">3800</text><text x="649.5" y="646.5" text-anchor="middle">4000</text><text x="688.5" y="646.5" text-anchor="middle">4200</text><text x="728.5" y="646.5" text-anchor="middle">4400</text><text x="768.5" y="646.5" text-anchor="middle">4600</text><text x="807.5" y="646.5" text-anchor="middle">4800</text><text x="847.5" y="646.5" text-anchor="middle">5000</text></g>
<text x="450.5" y="661.4" font-size="11" fill="#1a1a1a" text-anchor="middle">Toerental (rpm)</text>
<text transform="translate(16.5,332.3) rotate(-90)" font-size="10.4" fill="#1a1a1a" text-anchor="middle">EEC Motor Vermogen (pk)</text>
<text transform="translate(883,332) rotate(90)" font-size="10.5" fill="#1a1a1a" text-anchor="middle">EEC Torque (Nm)</text>
</svg></body></html>
